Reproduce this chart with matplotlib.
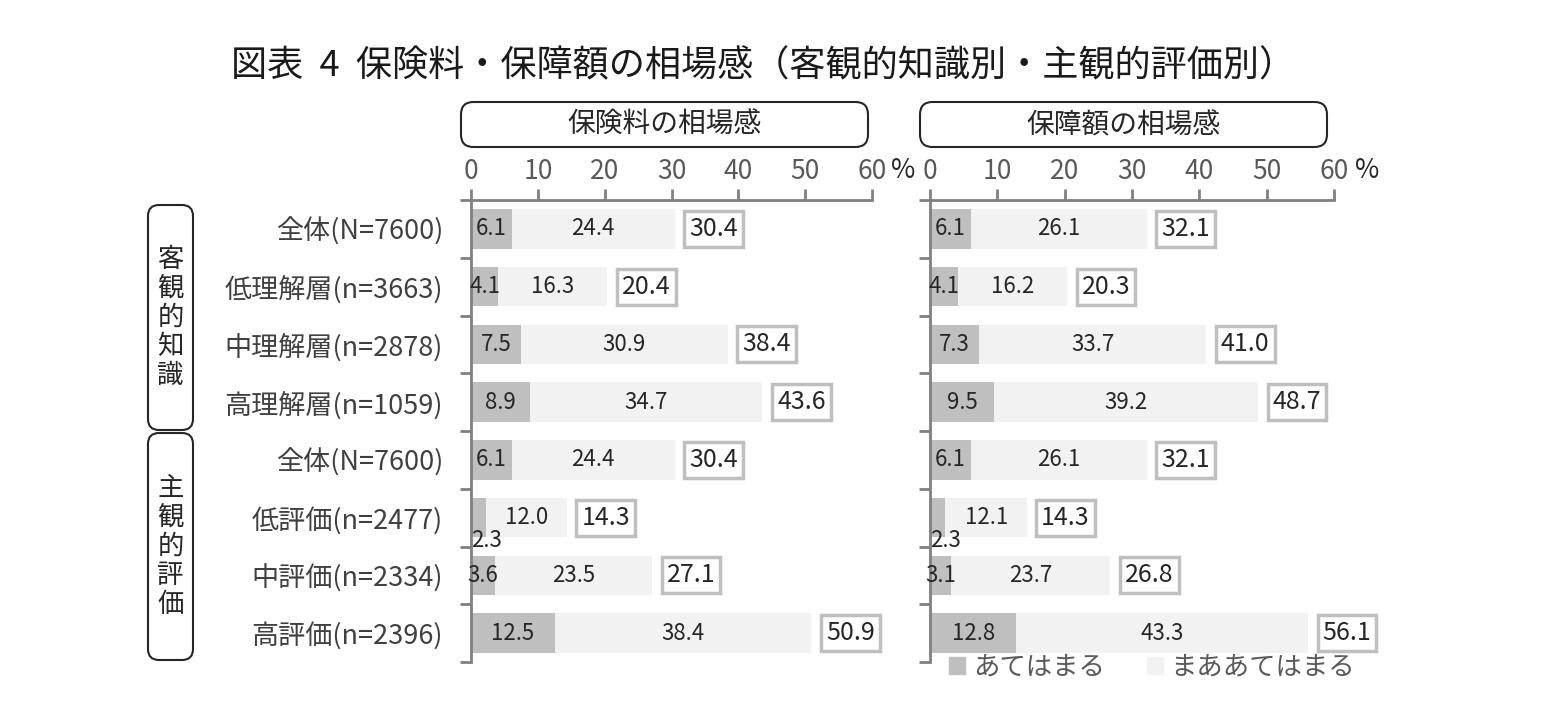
import matplotlib
matplotlib.use('Agg')
import matplotlib.pyplot as plt
from matplotlib.patches import FancyBboxPatch, Patch

plt.rcParams['font.family'] = ['Noto Sans CJK JP', 'DejaVu Sans']

cats = ['全体(N=7600)', '低理解層(n=3663)', '中理解層(n=2878)', '高理解層(n=1059)',
        '全体(N=7600)', '低評価(n=2477)', '中評価(n=2334)', '高評価(n=2396)']
prem_a = [6.1, 4.1, 7.5, 8.9, 6.1, 2.3, 3.6, 12.5]
prem_b = [24.4, 16.3, 30.9, 34.7, 24.4, 12.0, 23.5, 38.4]
prem_t = [30.4, 20.4, 38.4, 43.6, 30.4, 14.3, 27.1, 50.9]
cov_a = [6.1, 4.1, 7.3, 9.5, 6.1, 2.3, 3.1, 12.8]
cov_b = [26.1, 16.2, 33.7, 39.2, 26.1, 12.1, 23.7, 43.3]
cov_t = [32.1, 20.3, 41.0, 48.7, 32.1, 14.3, 26.8, 56.1]
panels = ['保険料の相場感', '保障額の相場感']
groups = ['客\n観\n的\n知\n識', '主\n観\n的\n評\n価']
legend_labels = ['あてはまる', 'まああてはまる']

DARK = '#bfbfbf'
LIGHT = '#f2f2f2'
AX = '#808080'
TXT = '#262626'

W, H = 1564, 719
fig = plt.figure(figsize=(W / 100, H / 100), dpi=100)

def fx(px):
    return px / W

def fy(py):
    return 1 - py / H

top, bot = 200, 662
ax1 = fig.add_axes([fx(471), fy(bot), fx(401), (bot - top) / H])
ax2 = fig.add_axes([fx(930), fy(bot), fx(404), (bot - top) / H])

n = len(cats)
ypos = list(range(n))

for ax, a, b, t in [(ax1, prem_a, prem_b, prem_t), (ax2, cov_a, cov_b, cov_t)]:
    ax.barh(ypos, a, height=0.68, color=DARK)
    ax.barh(ypos, b, left=a, height=0.68, color=LIGHT)
    ax.set_xlim(0, 60)
    ax.set_ylim(n - 0.5, -0.5)
    for i in range(n):
        if a[i] < 3:
            ax.text(0.05, i + 0.4, f'{a[i]:.1f}', ha='left', va='center',
                    fontsize=16, color=TXT)
        else:
            ax.text(a[i] / 2, i, f'{a[i]:.1f}', ha='center', va='center',
                    fontsize=16, color=TXT)
        ax.text(a[i] + b[i] / 2, i, f'{b[i]:.1f}', ha='center', va='center',
                fontsize=16, color=TXT)
        ax.text(t[i] + 2.2, i, f'{t[i]:.1f}', ha='left', va='center',
                fontsize=18, color=TXT,
                bbox=dict(boxstyle='square,pad=0.2', fc='white', ec=DARK, lw=2.5))
    for s in ['right', 'bottom']:
        ax.spines[s].set_visible(False)
    for s in ['top', 'left']:
        ax.spines[s].set_color(AX)
        ax.spines[s].set_linewidth(2)
    ax.xaxis.tick_top()
    ax.set_xticks(range(0, 61, 10))
    ax.tick_params(axis='x', colors=AX, length=8, width=2, labelsize=19,
                   labelcolor='#595959', pad=3)
    ax.set_yticks([i - 0.5 for i in range(n + 1)], minor=True)
    ax.set_yticks(ypos)
    ax.tick_params(axis='y', which='minor', length=8, width=2, color=AX)
    ax.tick_params(axis='y', which='major', length=0)

ax1.set_yticklabels(cats, fontsize=19.5, color='#404040')
ax1.tick_params(axis='y', which='major', pad=20)
ax2.set_yticklabels([])

# % signs next to the 60 tick labels
for xp in (903, 1367):
    fig.text(fx(xp), fy(170), '%', ha='center', va='center', fontsize=19, color=TXT)

# panel header boxes
asp = W / H
for x0, x1, label in [(461, 868, panels[0]), (920, 1327, panels[1])]:
    box = FancyBboxPatch((fx(x0), fy(147)), fx(x1 - x0), (147 - 102) / H,
                         boxstyle='round,pad=0,rounding_size=0.008',
                         mutation_aspect=asp, transform=fig.transFigure,
                         fc='white', ec='#262626', lw=1.5)
    fig.patches.append(box)
    fig.text(fx((x0 + x1) / 2), fy(125), label, ha='center', va='center',
             fontsize=20, color=TXT)

# group boxes on the left
for y0, y1, label in [(205, 430, groups[0]), (433, 660, groups[1])]:
    box = FancyBboxPatch((fx(148), fy(y1)), fx(45), (y1 - y0) / H,
                         boxstyle='round,pad=0,rounding_size=0.007',
                         mutation_aspect=asp, transform=fig.transFigure,
                         fc='white', ec='#262626', lw=1.5)
    fig.patches.append(box)
    fig.text(fx(170.5), fy((y0 + y1) / 2), label, ha='center', va='center',
             fontsize=19, color=TXT, linespacing=1.1)

fig.text(fx(763), fy(66), '図表  4  保険料・保障額の相場感（客観的知識別・主観的評価別）',
         ha='center', va='center', fontsize=26, color='#1a1a1a')

handles = [Patch(color=DARK), Patch(color=LIGHT)]
fig.legend(handles, legend_labels, loc='center', bbox_to_anchor=(fx(1152), fy(667)),
           ncol=2, frameon=False, fontsize=19, labelcolor='#595959',
           handlelength=0.6, handleheight=0.6, handletextpad=0.3, columnspacing=1.6)

fig.savefig('out.png', dpi=100)
